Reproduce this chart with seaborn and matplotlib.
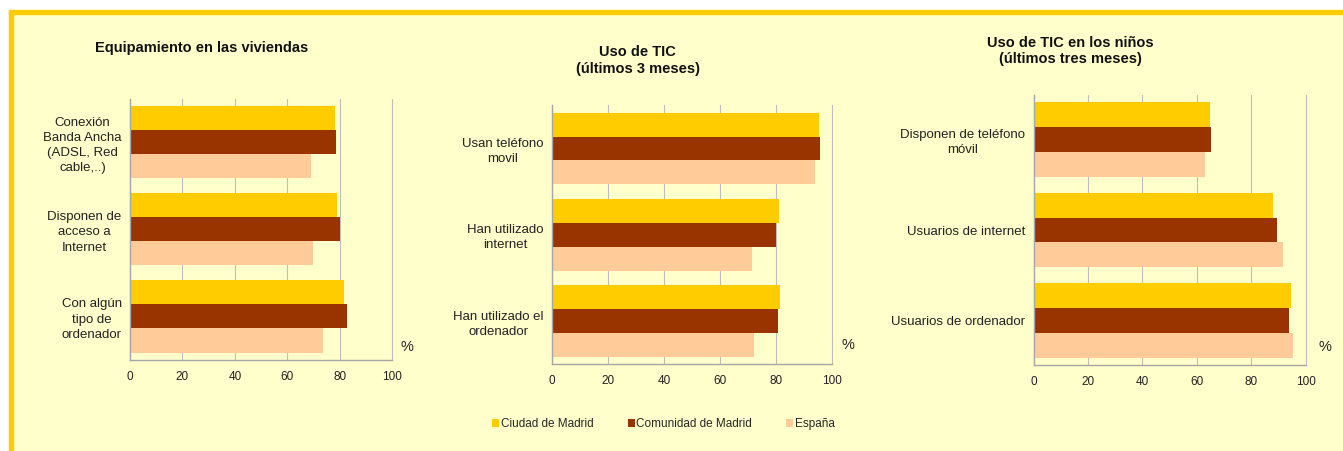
import matplotlib
matplotlib.use("Agg")
import matplotlib.pyplot as plt
from matplotlib.patches import Rectangle, Patch
import pandas as pd
import seaborn as sns

sns.set_style("white")
plt.rcParams["font.family"] = ["Liberation Sans", "DejaVu Sans"]

BG = "#FFFFCC"
BORDER = "#FFCC00"
SERIES = ["Ciudad de Madrid", "Comunidad de Madrid", "España"]
COLORS = ["#FFCC00", "#993300", "#FFCC99"]

# Panel 1: Equipamiento en las viviendas
cats1 = ["Conexión\nBanda Ancha\n(ADSL, Red\ncable,..)",
         "Disponen de\nacceso a\nInternet",
         "Con algún\ntipo de\nordenador"]
ciudad1 = [78.2, 78.8, 81.7]
comunidad1 = [78.5, 80.0, 82.6]
espana1 = [69.0, 69.9, 73.6]

# Panel 2: Uso de TIC (últimos 3 meses)
cats2 = ["Usan teléfono\nmovil", "Han utilizado\ninternet",
         "Han utilizado el\nordenador"]
ciudad2 = [95.2, 81.0, 81.6]
comunidad2 = [95.6, 80.1, 80.6]
espana2 = [94.1, 71.6, 72.1]

# Panel 3: Uso de TIC en los niños (últimos tres meses)
cats3 = ["Disponen de teléfono\nmóvil", "Usuarios de internet",
         "Usuarios de ordenador"]
ciudad3 = [64.8, 88.0, 94.5]
comunidad3 = [65.2, 89.3, 93.9]
espana3 = [63.0, 91.8, 95.2]

titles = ["Equipamiento en las viviendas",
          "Uso de TIC\n(últimos 3 meses)",
          "Uso de TIC en los niños\n(últimos tres meses)"]


def long_df(cats, a, b, c):
    rows = []
    for vals, name in zip([a, b, c], SERIES):
        for cat, v in zip(cats, vals):
            rows.append({"cat": cat, "serie": name, "val": v})
    return pd.DataFrame(rows)


fig = plt.figure(figsize=(13.43, 4.51), dpi=100)
fig.patch.set_facecolor(BG)
# frame of the original slide: white strip + yellow border top and left
fig.patches.append(Rectangle((0, 1 - 11 / 451), 1, 11 / 451, transform=fig.transFigure,
                             color="white", zorder=0))
fig.patches.append(Rectangle((0, 0), 9 / 1343, 1, transform=fig.transFigure,
                             color="white", zorder=0))
fig.patches.append(Rectangle((9 / 1343, 1 - 14 / 451), 1, 3.5 / 451, transform=fig.transFigure,
                             color=BORDER, zorder=1))
fig.patches.append(Rectangle((9 / 1343, 0), 4 / 1343, 1 - 11 / 451, transform=fig.transFigure,
                             color=BORDER, zorder=1))

positions = [[0.0968, 0.2018, 0.1953, 0.5794],
             [0.4108, 0.1922, 0.2087, 0.5743],
             [0.7697, 0.1900, 0.2025, 0.6000]]
title_pos = [(0.150, 0.894), (0.475, 0.866), (0.797, 0.887)]
pct_pos = [(1.056, 0.05), (1.057, 0.075), (1.071, 0.069)]

data = [long_df(cats1, ciudad1, comunidad1, espana1),
        long_df(cats2, ciudad2, comunidad2, espana2),
        long_df(cats3, ciudad3, comunidad3, espana3)]
cat_lists = [cats1, cats2, cats3]

for i in range(3):
    ax = fig.add_axes(positions[i])
    ax.set_facecolor("none")
    sns.barplot(data=data[i], y="cat", x="val", hue="serie", order=cat_lists[i],
                hue_order=SERIES, palette=COLORS, width=0.83, orient="h",
                legend=False, saturation=1, linewidth=0, ax=ax)
    ax.set_xlim(0, 100)
    ax.set_ylim(2.5, -0.5)
    ax.set_xticks([0, 20, 40, 60, 80, 100])
    ax.set_xlabel("")
    ax.set_ylabel("")
    ax.grid(axis="x", color="#BDBDBD", lw=0.8)
    ax.set_axisbelow(True)
    for gl in ax.get_xgridlines():
        gl.set_clip_on(False)
    for s in ["top", "right"]:
        ax.spines[s].set_visible(False)
    for s in ["left", "bottom"]:
        ax.spines[s].set_color("#A6A6A6")
        ax.spines[s].set_linewidth(1.0)
    ax.tick_params(axis="x", length=4, color="#A6A6A6", labelsize=8.5, labelcolor="#222222", pad=4)
    ax.tick_params(axis="y", which="major", length=0, labelsize=9.5, labelcolor="#222222", pad=6)
    ax.set_yticks([-0.5, 0.5, 1.5, 2.5], minor=True)
    ax.tick_params(axis="y", which="minor", length=4, color="#A6A6A6")
    for lab in ax.get_yticklabels():
        lab.set_multialignment("center")
        lab.set_linespacing(1.35)
    ax.text(pct_pos[i][0], pct_pos[i][1], "%", transform=ax.transAxes,
            fontsize=10.5, color="#222222", ha="center", va="center")
    fig.text(title_pos[i][0], title_pos[i][1], titles[i], ha="center", va="center",
             fontsize=10.5, fontweight="bold", color="#111111", linespacing=1.25)

handles = [Patch(facecolor=c, edgecolor="none", label=s) for s, c in zip(SERIES, COLORS)]
fig.legend(handles=handles, loc="center", bbox_to_anchor=(0.494, 0.06), ncol=3,
           frameon=False, fontsize=8.5, handlelength=0.6, handleheight=0.6,
           handletextpad=0.15, columnspacing=2.9)

fig.savefig("out.png", dpi=100, facecolor=BG)
